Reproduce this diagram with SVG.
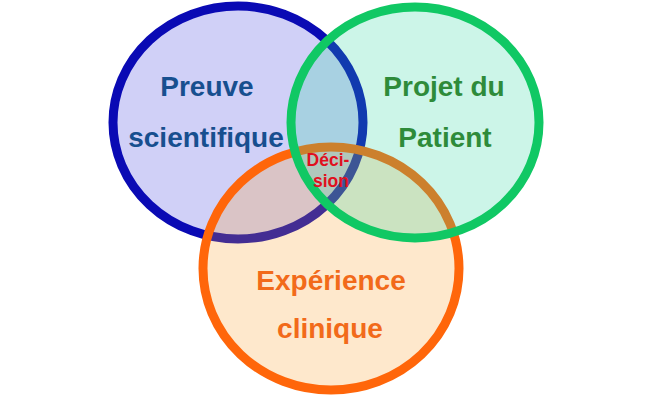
<svg xmlns="http://www.w3.org/2000/svg" width="655" height="400" viewBox="0 0 655 400">
<style>
.c{stroke-width:9;fill-opacity:0.24}
.t{font-family:"Liberation Sans",Arial,sans-serif;font-weight:bold;font-size:28px;text-anchor:middle}
</style>
<rect width="655" height="400" fill="#ffffff"/>
<g id="preuve">
<ellipse class="c" cx="238" cy="122.5" rx="125" ry="116.5" fill="#3c3cdc" stroke="#0a0ab4"/>
<text class="t" x="207" y="96" fill="#174f8f">Preuve</text>
<text class="t" x="206" y="147" fill="#174f8f">scientifique</text>
</g>
<g id="experience">
<ellipse class="c" cx="331" cy="268.5" rx="128" ry="121.5" fill="#faa028" stroke="#ff660a"/>
<text class="t" x="331" y="290" fill="#f26a1a">Expérience</text>
<text class="t" x="330" y="338" fill="#f26a1a">clinique</text>
</g>
<g id="projet">
<ellipse class="c" cx="415" cy="122.5" rx="124" ry="115.5" fill="#28d7a0" stroke="#10c864"/>
<text class="t" x="444" y="96" fill="#2e8b3a">Projet du</text>
<text class="t" x="445" y="147" fill="#2e8b3a">Patient</text>
</g>
<g id="decision">
<text class="t" x="328" y="166" style="font-size:17.5px" fill="#e0101e">Déci-</text>
<text class="t" x="331" y="187" style="font-size:17.5px" fill="#e0101e">sion</text>
</g>
<g id="connectors"/>
</svg>
